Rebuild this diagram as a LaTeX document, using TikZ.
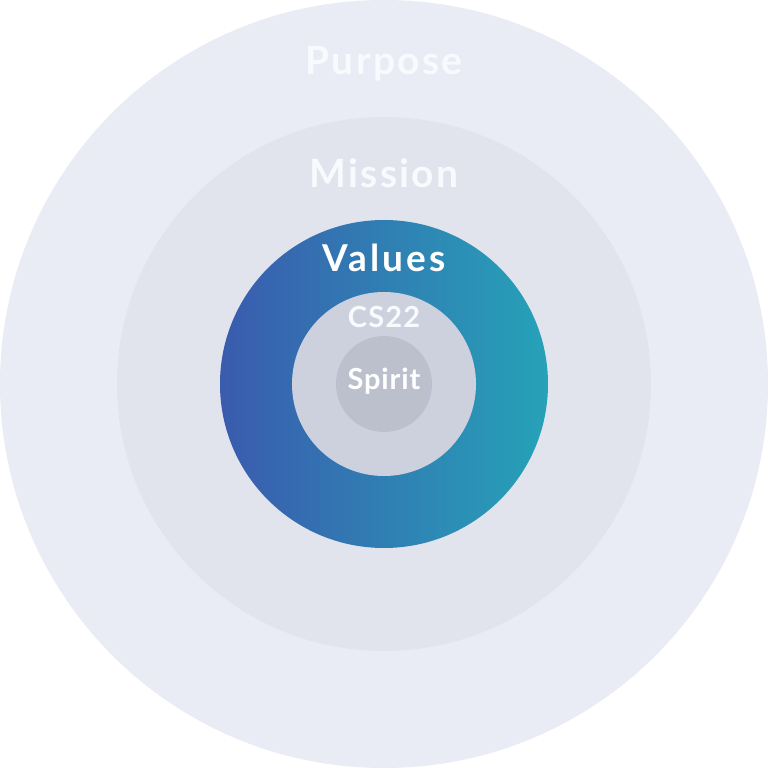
\documentclass[tikz,border=0pt]{standalone}
\usepackage{fontspec}
\setmainfont{Lato}
\usetikzlibrary{positioning}

\definecolor{purposebg}{HTML}{E9ECF5}
\definecolor{missionbg}{HTML}{E1E4ED}
\definecolor{valuesleft}{HTML}{3A5BAE}
\definecolor{valuesright}{HTML}{26A2B8}
\definecolor{csbg}{HTML}{CDD1DD}
\definecolor{spiritbg}{HTML}{BCC0CC}
\definecolor{paletext}{HTML}{F9FAFD}

\begin{document}
\begin{tikzpicture}[
                    x=1pt, y=1pt,
                    ring/.style={circle, inner sep=0pt, draw=none},
                    ringtext/.style={anchor=base, text=paletext},
                ]
                    \useasboundingbox (-384,-384) rectangle (384,384);
                    \fill[white] (-384,-384) rectangle (384,384);

                    % rings, outside in
                    \node[ring, fill=purposebg, minimum size=768pt] (purpose) at (0,0) {};
                    \node[ring, fill=missionbg, minimum size=534pt] (mission) at (0,0) {};
                    \node[ring, left color=valuesleft, right color=valuesright, minimum size=328pt] (values) at (0,0) {};
                    \node[ring, fill=csbg, minimum size=184pt] (cs) at (0,0) {};
                    \node[ring, fill=spiritbg, minimum size=96pt] (spirit) at (0,0) {};

                    % titles
                    \node[ringtext, font=\fontsize{39}{42}\bfseries\addfontfeature{LetterSpace=6}] (purposetext) at (0,309) {Purpose};
                    \node[ringtext, font=\fontsize{39}{42}\bfseries\addfontfeature{LetterSpace=6}] (missiontext) at (0,196) {Mission};
                    \node[ringtext, text=white, font=\fontsize{37}{40}\bfseries\addfontfeature{LetterSpace=8}] (valuestext) at (0,112) {Values};
                    \node[ringtext, font=\fontsize{29}{32}\bfseries\addfontfeature{LetterSpace=4}] (cstext) at (0,56) {CS22};
                    \node[ringtext, text=white, font=\fontsize{29}{32}\bfseries\addfontfeature{LetterSpace=3}] (spirittext) at (0,-6) {Spirit};
                \end{tikzpicture}
\end{document}
